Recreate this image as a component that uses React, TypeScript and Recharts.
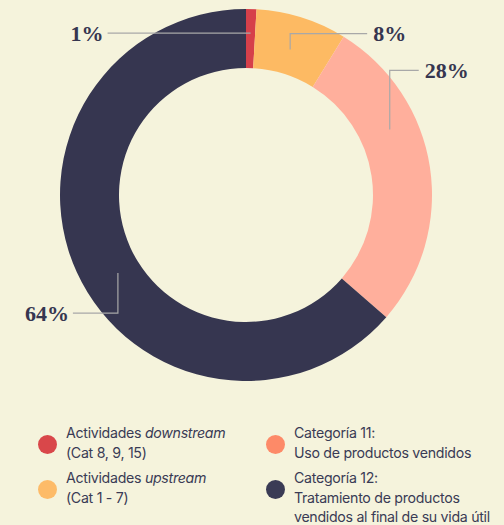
import { PieChart, Pie, Cell } from "recharts";

const categories = [
  "Actividades downstream (Cat 8, 9, 15)",
  "Actividades upstream (Cat 1 - 7)",
  "Categoría 11: Uso de productos vendidos",
  "Categoría 12: Tratamiento de productos vendidos al final de su vida útil",
];
const shares = [0.9, 7.9, 27.6, 63.6];
const shareLabels = ["1%", "8%", "28%", "64%"];
const sliceColors = ["#d6404a", "#fdba63", "#ffaf9c", "#363650"];
const dotColors = ["#d9474a", "#fdbb68", "#fd8a68", "#3a3b55"];

const legendLines: { text: string; em?: string }[][] = [
  [{ text: "Actividades ", em: "downstream" }, { text: "(Cat 8, 9, 15)" }],
  [{ text: "Actividades ", em: "upstream" }, { text: "(Cat 1 - 7)" }],
  [{ text: "Categoría 11:" }, { text: "Uso de productos vendidos" }],
  [{ text: "Categoría 12:" }, { text: "Tratamiento de productos" }, { text: "vendidos al final de su vida útil" }],
];

const data = categories.map((name, i) => ({ name, value: shares[i] }));

// where each leader line starts (fraction along slice, radius) and how it bends
const leader = [
  { at: 0.5, r: 162, up: 0, side: -143 },
  { at: 0.48, r: 152, up: 16, side: 77 },
  { at: 0.34, r: 158, up: 59, side: 29 },
  { at: 0.47, r: 150, up: -40, side: -45 },
];

const RAD = Math.PI / 180;

function renderLabel(props: any) {
  const { cx, cy, startAngle, endAngle, index } = props;
  const l = leader[index];
  const a = startAngle + (endAngle - startAngle) * l.at;
  const x = cx + l.r * Math.cos(a * RAD);
  const y = cy - l.r * Math.sin(a * RAD);
  const y2 = y - l.up;
  const x2 = x + l.side;
  const right = l.side > 0;
  return (
    <g key={`lbl-${index}`}>
      <polyline
        points={`${x},${y} ${x},${y2} ${x2},${y2}`}
        fill="none"
        stroke="#a8a8a8"
        strokeWidth={1.2}
      />
      <text
        x={right ? x2 + 6 : x2 - 4}
        y={y2 + 7.5}
        textAnchor={right ? "start" : "end"}
        fontFamily="'Liberation Serif', 'DejaVu Serif', serif"
        fontWeight={700}
        fontSize={22}
        fill="#363650"
      >
        {shareLabels[index]}
      </text>
    </g>
  );
}

function LegendBlock() {
  const order = [0, 2, 1, 3];
  const pos = [
    { left: 38, top: 423 },
    { left: 266, top: 423 },
    { left: 38, top: 468 },
    { left: 266, top: 468 },
  ];
  return (
    <div>
      {order.map((idx, k) => (
        <div
          key={idx}
          style={{
            position: "absolute",
            left: pos[k].left,
            top: pos[k].top,
            display: "flex",
            alignItems: "flex-start",
            fontFamily: "Inter, 'Noto Sans', sans-serif",
            fontSize: 14.2,
            lineHeight: "19.6px",
            color: "#3a3b55",
            letterSpacing: -0.3,
          }}
        >
          <span
            style={{
              width: 19,
              height: 19,
              borderRadius: "50%",
              background: dotColors[idx],
              marginTop: 12,
              marginRight: 9,
              flexShrink: 0,
            }}
          />
          <div>
            {legendLines[idx].map((ln, j) => (
              <div key={j} style={{ whiteSpace: "nowrap" }}>
                {ln.text}
                {ln.em && <i>{ln.em}</i>}
              </div>
            ))}
          </div>
        </div>
      ))}
    </div>
  );
}

export default function App() {
  return (
    <div style={{ width: 504, height: 525, background: "#f5f3dc", position: "relative", overflow: "hidden" }}>
      <style>{`body{margin:0}`}</style>
      <PieChart width={504} height={525} margin={{ top: 0, right: 0, bottom: 0, left: 0 }}>
        <Pie
          data={data}
          dataKey="value"
          nameKey="name"
          cx={246}
          cy={195}
          outerRadius={186}
          innerRadius={127}
          startAngle={90}
          endAngle={-270}
          stroke="none"
          label={renderLabel}
          labelLine={false}
          isAnimationActive={false}
        >
          {data.map((d, i) => (
            <Cell key={d.name} fill={sliceColors[i]} />
          ))}
        </Pie>
      </PieChart>
      <LegendBlock />
    </div>
  );
}
